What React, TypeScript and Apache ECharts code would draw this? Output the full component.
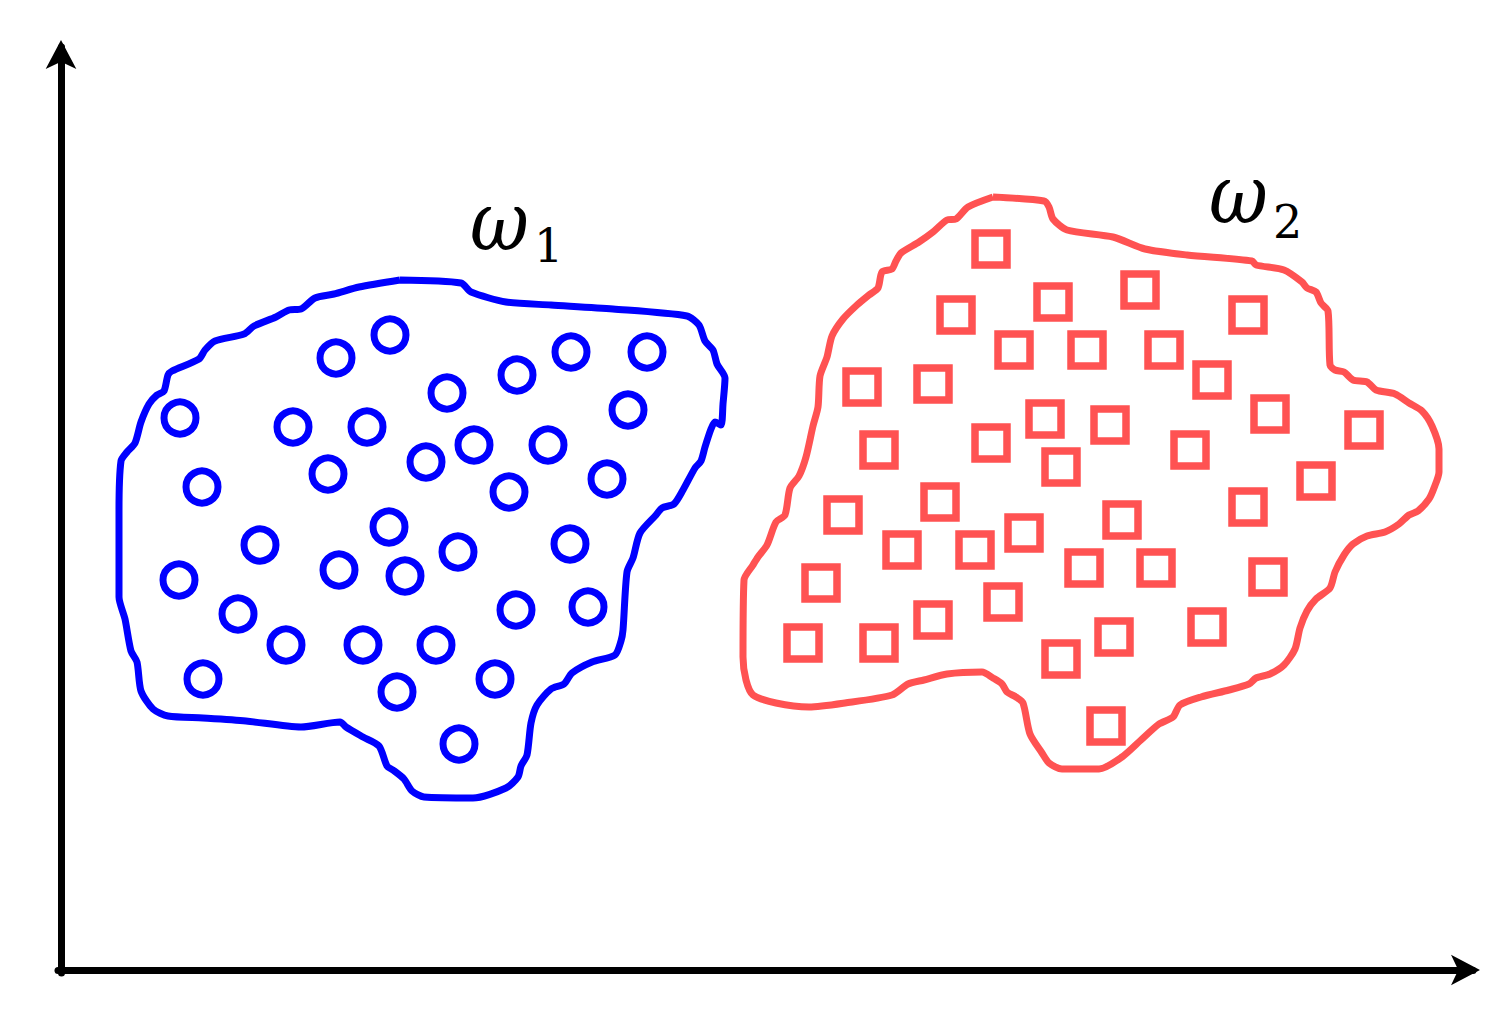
import React, { useEffect, useRef } from "react";
import * as echarts from "echarts";

// Class ω1 samples (hollow circles)
const class1Points: [number, number][] = [
  [329, 635], [275, 612], [510, 618], [586, 618], [456, 595], [386, 577],
  [567, 560], [119, 552], [232, 543], [306, 543], [413, 525], [487, 525],
  [365, 508], [267, 496], [546, 491], [448, 478], [141, 483], [328, 443],
  [199, 425], [509, 426], [397, 418], [278, 400], [344, 394], [118, 390],
  [527, 363], [455, 360], [177, 356], [225, 325], [302, 325], [375, 325],
  [142, 291], [434, 291], [336, 278], [398, 226],
];

// Class ω2 samples (hollow squares)
const class2Points: [number, number][] = [
  [930, 721], [895, 655], [992, 668], [1079, 680], [1187, 655], [953, 620],
  [1026, 620], [1103, 620], [1151, 590], [801, 583], [872, 586], [1209, 556],
  [984, 551], [1049, 545], [1303, 540], [818, 520], [930, 527], [1129, 520],
  [1000, 503], [1255, 489], [879, 468], [782, 455], [1187, 463], [1061, 450],
  [963, 437], [841, 420], [914, 420], [1023, 402], [1095, 402], [760, 387],
  [1207, 393], [942, 368], [872, 350], [1146, 343], [1053, 333], [742, 327],
  [818, 327], [1000, 311], [1045, 244],
];

// Hand-drawn region boundary of ω1
const class1Boundary: [number, number][] = [
  [339, 690], [400, 687], [410, 678], [445, 668], [490, 665], [552, 661],
  [626, 654], [638, 645], [644, 629], [652, 620], [656, 606], [664, 592],
  [662, 566], [660, 545], [654, 548], [650, 541], [644, 523], [640, 509],
  [634, 502], [622, 480], [613, 466], [601, 462], [595, 455], [579, 437],
  [572, 412], [566, 398], [562, 340], [560, 329], [554, 315], [531, 308],
  [511, 297], [503, 286], [490, 281], [476, 265], [470, 247], [466, 215],
  [460, 204], [457, 193], [445, 182], [412, 172], [363, 173], [351, 179],
  [343, 191], [332, 200], [326, 204], [318, 224], [302, 233], [285, 243],
  [279, 248], [240, 243], [185, 249], [142, 252], [107, 254], [92, 261],
  [80, 279], [76, 308], [70, 319], [64, 351], [58, 373], [58, 459],
  [60, 509], [66, 518], [74, 527], [80, 548], [88, 566], [96, 575],
  [103, 579], [107, 595], [111, 599], [138, 611], [144, 620], [154, 629],
  [183, 636], [193, 644], [215, 653], [228, 660], [240, 661], [254, 672],
  [273, 676], [298, 683], [339, 690],
];

// Hand-drawn region boundary of ω2
const class2Boundary: [number, number][] = [
  [932, 773], [983, 769], [988, 763], [992, 751], [1006, 740], [1052, 733],
  [1084, 721], [1126, 715], [1191, 709], [1195, 705], [1223, 700], [1241, 688],
  [1246, 682], [1255, 678], [1260, 667], [1267, 659], [1269, 605], [1274, 600],
  [1283, 598], [1292, 590], [1306, 588], [1315, 580], [1334, 576], [1348, 567],
  [1361, 559], [1371, 544], [1378, 521], [1378, 498], [1373, 482], [1368, 471],
  [1357, 459], [1348, 455], [1338, 446], [1324, 438], [1306, 434], [1292, 426],
  [1283, 415], [1274, 398], [1269, 382], [1255, 371], [1246, 359], [1239, 342],
  [1234, 321], [1223, 305], [1209, 296], [1195, 292], [1188, 286], [1168, 280],
  [1140, 273], [1119, 265], [1112, 253], [1098, 246], [1080, 230], [1061, 213],
  [1038, 201], [1001, 201], [988, 207], [981, 217], [969, 236], [962, 267],
  [955, 273], [946, 278], [941, 286], [932, 292], [921, 298], [886, 296],
  [863, 290], [847, 286], [831, 275], [784, 267], [748, 263], [715, 267],
  [692, 275], [685, 290], [682, 313], [683, 390], [692, 405], [697, 413],
  [706, 425], [715, 448], [724, 455], [729, 482], [738, 494], [745, 513],
  [752, 544], [757, 563], [759, 594], [766, 613], [771, 634], [782, 651],
  [796, 665], [808, 675], [817, 682], [821, 698], [831, 701], [835, 709],
  [840, 717], [858, 728], [872, 738], [886, 750], [895, 751], [907, 763],
  [932, 773],
];

// Class labels: symbol, subscript, anchor of symbol, anchor of subscript
const classNames = ["ω", "ω"];
const classSubs = ["1", "2"];
const nameAnchors: [number, number][] = [[409, 749], [1148, 776]];
const subAnchors: [number, number][] = [[473, 724], [1212, 748]];

const BLUE = "#0000ff";
const RED = "#ff5252";

export default function App() {
  const ref = useRef<HTMLDivElement>(null);
  useEffect(() => {
    const chart = echarts.init(ref.current!, null, { renderer: "svg" });
    const axisCommon = {
      type: "value" as const,
      min: -3,
      axisLine: {
        show: true,
        onZero: true,
        symbol: ["none", "arrow"],
        symbolSize: [23, 29],
        symbolOffset: [0, 7],
        lineStyle: { color: "#000", width: 7 },
      },
      axisTick: { show: false },
      axisLabel: { show: false },
      splitLine: { show: false },
    };
    chart.setOption({
      animation: false,
      backgroundColor: "#ffffff",
      grid: { left: 58, right: 36, top: 47, bottom: 60 },
      xAxis: { ...axisCommon, max: 1412 },
      yAxis: { ...axisCommon, max: 923 },
      series: [
        {
          type: "line",
          data: class1Boundary,
          showSymbol: false,
          smooth: 0.25,
          lineStyle: { color: BLUE, width: 7 },
          z: 2,
        },
        {
          type: "line",
          data: class2Boundary,
          showSymbol: false,
          smooth: 0.25,
          lineStyle: { color: RED, width: 7 },
          z: 2,
        },
        {
          type: "scatter",
          data: class1Points,
          symbol: "circle",
          symbolSize: 32,
          itemStyle: { color: "rgba(0,0,0,0)", borderColor: BLUE, borderWidth: 7, opacity: 1 },
          z: 3,
        },
        {
          type: "scatter",
          data: class2Points,
          symbol: "rect",
          symbolSize: 32,
          itemStyle: { color: "rgba(0,0,0,0)", borderColor: RED, borderWidth: 7.5, opacity: 1 },
          z: 3,
        },
      ],
    });
    const graphics: any[] = [];
    classNames.forEach((name, i) => {
      const p = chart.convertToPixel({ gridIndex: 0 }, nameAnchors[i]) as number[];
      const q = chart.convertToPixel({ gridIndex: 0 }, subAnchors[i]) as number[];
      graphics.push({
        type: "text",
        x: p[0],
        y: p[1],
        scaleX: 0.95,
        scaleY: 1.08,
        style: {
          text: name,
          font: 'italic 76px "DejaVu Serif"',
          fill: "#000",
          align: "left",
          verticalAlign: "middle",
        },
      });
      graphics.push({
        type: "text",
        x: q[0],
        y: q[1],
        style: {
          text: classSubs[i],
          font: '46px "DejaVu Serif"',
          fill: "#000",
          align: "left",
          verticalAlign: "middle",
        },
      });
    });
    chart.setOption({ graphic: graphics });
    return () => chart.dispose();
  }, []);
  return (
    <div
      ref={ref}
      style={{ position: "fixed", left: 0, top: 0, width: 1509, height: 1033, background: "#fff" }}
    />
  );
}
